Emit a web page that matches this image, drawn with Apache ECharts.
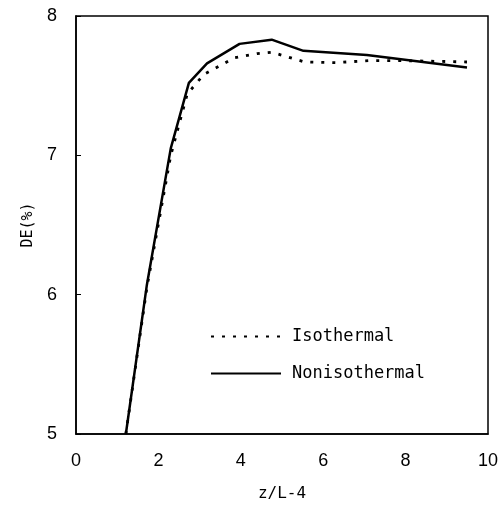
<!DOCTYPE html>
<html>
<head>
<meta charset="utf-8">
<script src="https://cdn.jsdelivr.net/npm/echarts@6/dist/echarts.min.js"></script>
<style>html,body{margin:0;padding:0;background:#fff;}#c{width:503px;height:508px;}</style>
</head>
<body>
<div id="c"></div>
<script>
var isoX = [1.21, 1.72, 2.30, 2.70, 3.10, 3.85, 4.40, 4.75, 5.55, 6.30, 7.10, 7.90, 9.49];
var isoY = [5.00, 6.05, 7.00, 7.44, 7.58, 7.70, 7.73, 7.74, 7.67, 7.665, 7.68, 7.68, 7.67];
var nonX = [1.21, 1.72, 2.30, 2.74, 3.18, 3.97, 4.75, 5.52, 7.06, 9.49];
var nonY = [5.00, 6.07, 7.05, 7.52, 7.66, 7.80, 7.83, 7.75, 7.72, 7.63];
var xTicks = [0, 2, 4, 6, 8, 10];
var yTicks = [5, 6, 7, 8];

function pairs(xs, ys) { return xs.map(function (x, i) { return [x, ys[i]]; }); }

var chart = echarts.init(document.getElementById('c'));
var font = 'Liberation Sans, Arial, sans-serif';
chart.setOption({
  animation: false,
  backgroundColor: '#fff',
  grid: { left: 76, right: 15, top: 16, bottom: 74, show: true, borderColor: '#000', borderWidth: 1.5 },
  legend: {
    orient: 'vertical', left: 205, top: 323, itemWidth: 70, itemHeight: 18, itemGap: 20,
    itemStyle: { color: 'transparent', borderColor: 'transparent', borderWidth: 0, opacity: 0 },
    textStyle: { fontFamily: 'DejaVu Sans Mono, monospace', fontSize: 17, color: '#000', padding: [0, 0, 0, 6] },
    data: ['Isothermal', 'Nonisothermal']
  },
  xAxis: {
    type: 'value', min: xTicks[0], max: xTicks[xTicks.length - 1], interval: 2,
    name: 'z/L-4', nameLocation: 'middle', nameGap: 52,
    nameTextStyle: { fontFamily: 'DejaVu Sans Mono, monospace', fontSize: 16, color: '#000' },
    axisLine: { lineStyle: { color: '#000', width: 1.5 } },
    axisTick: { show: false },
    splitLine: { show: false },
    axisLabel: { fontFamily: font, fontSize: 18, color: '#000', margin: 18 }
  },
  yAxis: {
    type: 'value', min: yTicks[0], max: yTicks[yTicks.length - 1], interval: 1,
    name: 'DE(%)', nameLocation: 'middle', nameGap: 40, nameRotate: 90,
    nameTextStyle: { fontFamily: 'DejaVu Sans Mono, monospace', fontSize: 15, color: '#000' },
    axisLine: { lineStyle: { color: '#000', width: 1.5 } },
    axisTick: { show: true, inside: true, length: 5, lineStyle: { color: '#000' } },
    splitLine: { show: false },
    axisLabel: { fontFamily: font, fontSize: 18, color: '#000', margin: 19 }
  },
  series: [
    {
      name: 'Isothermal', type: 'line', symbol: 'none', data: pairs(isoX, isoY),
      lineStyle: { color: '#000', width: 2.8, type: [3, 8] }, itemStyle: { color: '#000' }
    },
    {
      name: 'Nonisothermal', type: 'line', symbol: 'none', data: pairs(nonX, nonY),
      lineStyle: { color: '#000', width: 2.5, type: 'solid' }, itemStyle: { color: '#000' }
    }
  ]
});
</script>
</body>
</html>
